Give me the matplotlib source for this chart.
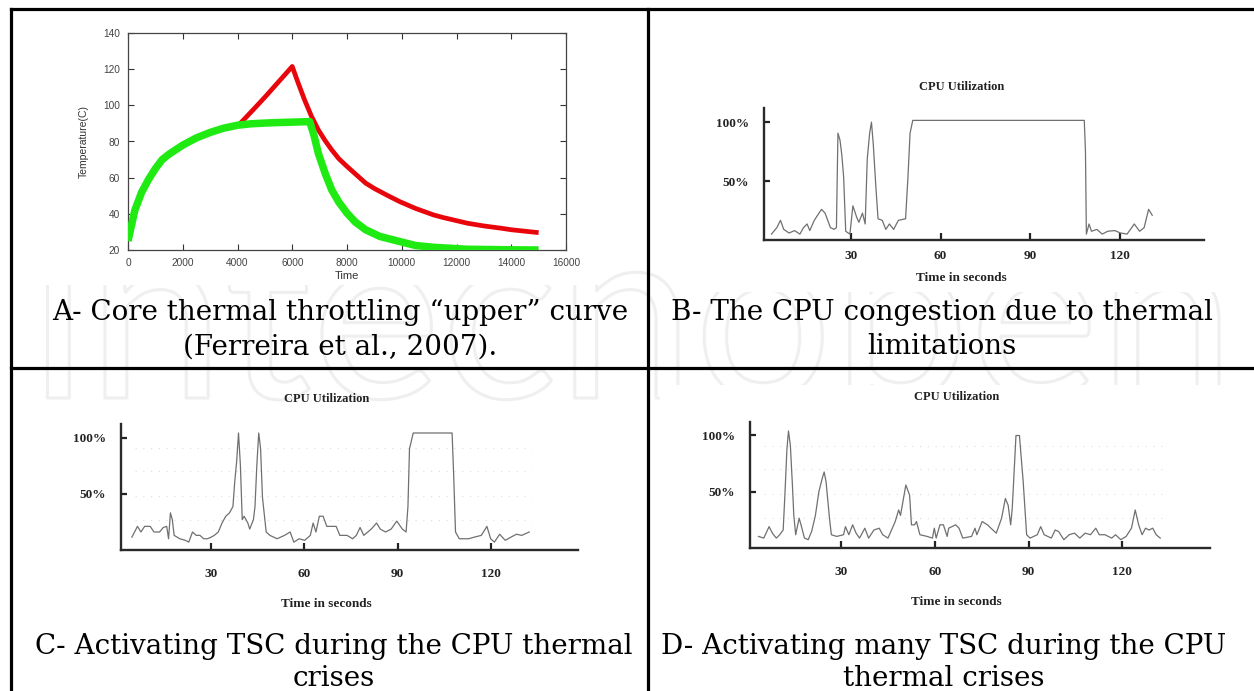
import matplotlib
matplotlib.use("Agg")
import matplotlib.pyplot as plt
from matplotlib.lines import Line2D
from matplotlib.patches import Rectangle
import matplotlib.transforms as mtransforms
import matplotlib.patheffects as pe

# ---------------- data ----------------
# Panel A: core temperature (C) vs time
red_t = [4100, 4600, 5000, 5500, 6000, 6200, 6450, 6700, 6950, 7200, 7440, 7700, 8000,
         8680, 9000, 9500, 9920, 10500, 11160, 11500, 12400, 13000, 13650, 14000, 14500, 15000]
red_T = [90, 98, 104.5, 113, 121.5, 113, 103, 94, 86.5, 80.5, 75.4, 70.5, 66.2,
         57, 54, 50, 46.8, 43, 39.4, 38, 34.8, 33.3, 32, 31.2, 30.4, 29.6]

green_t = [0, 250, 500, 750, 1000, 1250, 1500, 2000, 2500, 3000, 3500, 4000, 4500, 5000,
           5500, 6000, 6400, 6640, 6800, 6950, 7200, 7440, 7700, 8000, 8300, 8680, 9200,
           9920, 10500, 11160, 12400, 13000, 14000, 15000]
green_T = [25, 42, 52, 59, 65, 70, 73, 78, 82, 85, 87.4, 89, 89.8, 90.2,
           90.5, 90.7, 90.9, 91, 83, 73.6, 62.5, 53.3, 46.5, 40.4, 35.5, 31.2, 27.5,
           24.7, 22.5, 21.5, 20.4, 20.3, 20.1, 20]

# Panel B: CPU utilization (%) vs time (s)
b_t = [3.5, 5.3, 6.5, 7.6, 9.4, 11.2, 13, 14.2, 15.4, 16.3, 17.8, 20.2, 21.4, 23.2, 24.4,
       25.2, 25.7, 26.4, 27, 27.6, 28.3, 29.7, 30.7, 31.9, 32.7, 33.9, 34.8, 35.5, 36.3,
       36.9, 37.5, 38.4, 39.1, 40.5, 41.7, 42.9, 44.3, 45.9, 48.3, 49.1, 49.8, 50.7,
       108, 108.4, 108.7, 109.6, 110.4, 112.2, 114, 115.8, 118.2, 120, 122.3, 124.7,
       126.5, 128, 129.5, 130.7]
b_u = [5, 10.5, 16.7, 9, 5.9, 8, 5, 10.5, 13.6, 8, 16.7, 26, 22.8, 10.5, 9,
       10.5, 90.7, 84.6, 72, 53.7, 7.4, 5, 29, 19.8, 15, 22.8, 13.6, 69, 90.7,
       100, 81.5, 44, 18, 16.7, 9, 13.6, 9, 16.7, 18, 53.7, 90.7, 101.5,
       101.5, 75, 5, 13.6, 7.4, 9, 5, 7.4, 8, 6, 5, 13.6,
       7.4, 10.5, 26, 21]

# Panel C
c_t = [4.5, 6.3, 7.4, 8.6, 10.4, 11.6, 13.4, 14.6, 15.7, 16.3, 16.9, 17.5, 18.1, 19.9,
       21.7, 22.8, 24, 25.2, 26.4, 27.6, 28.8, 30, 31, 32.3, 33.5, 34.7, 35.9, 37, 37.6,
       38.2, 38.8, 39.4, 40, 40.6, 41.8, 42.4, 43.6, 44.1, 44.7, 45.3, 45.9, 46.5, 47.7,
       48.9, 51.2, 53.6, 55.4, 56.6, 58.3, 60.1, 61.9, 62.8, 63.7, 64.8, 66, 67.2, 68.4,
       70.2, 71.4, 73.7, 75.5, 76.7, 77.9, 79.1, 81.5, 83.2, 84.4, 86.1, 87.9, 89.7, 91.5,
       92.7, 93.3, 93.8, 95, 107.5, 108, 108.6, 109.8, 112.8, 114.6, 116.9, 118.7, 119.9,
       121.1, 122.8, 124.6, 126.4, 128.2, 129.9, 132.3]
c_u = [11.4, 21, 16, 21, 21, 16, 16, 20, 21, 10, 33, 27, 13, 10,
       8.6, 7, 16, 13, 13, 10, 10, 11.4, 13, 16, 24, 30, 33, 38.6, 61,
       78.6, 104, 75.7, 27, 30, 24, 18.6, 27, 38.6, 75.7, 104, 90, 47, 16,
       13, 10, 13, 16, 7, 10, 8.6, 13, 24, 16, 30, 30, 21, 21,
       21, 13, 13, 10, 13, 20, 13, 18.6, 24, 18.6, 16, 18.6, 25.7, 18.6,
       16, 38.6, 90, 104, 104, 67, 16, 10, 10, 11.4, 13, 21, 10,
       7, 14, 8.6, 11.4, 14, 13, 16]

# Panel D
d_t = [3.7, 5.4, 7.1, 8.2, 9.4, 10.5, 11.6, 12.2, 12.8, 13.3, 13.9, 14.5, 15, 15.6, 16.7,
       17.3, 18.4, 19.6, 20.7, 21.9, 23, 24.1, 24.7, 25.3, 26.4, 27, 28.7, 30.9, 31.5,
       32.6, 33.8, 34.9, 36, 37.7, 38.9, 40.6, 42.3, 43.4, 45.1, 47.4, 48.5, 49.1, 50.8,
       52, 52.6, 53.6, 54.2, 55.3, 57.6, 59.3, 59.9, 60.5, 61.7, 62.8, 64, 64.5, 66.7,
       67.8, 69, 71.8, 72.9, 73.5, 75.2, 76.9, 78, 79.7, 81.4, 82.6, 83.5, 84.3, 84.8, 86,
       87.1, 88.3, 89.4, 90.5, 92.8, 93.9, 95, 97.3, 98.5, 99.6, 101.3, 103, 104.7, 106.4,
       108.1, 109.8, 111.5, 112.6, 114.4, 116.6, 117.8, 119.5, 121.2, 122.9, 124.1, 125.2,
       126.3, 127.4, 128.5, 129.7, 130.8, 132.1]
d_u = [10.3, 8.8, 19, 13, 8.8, 11.8, 16, 50, 88, 104, 91, 59, 29, 11.8, 26.5,
       20.6, 8.8, 7.4, 14.7, 29, 50, 62, 67.6, 59, 26.5, 11.8, 10.3, 11.8, 19,
       11.8, 20.6, 13.2, 8.8, 17.6, 8.8, 16, 17.6, 11.8, 8.8, 23.5, 33.8, 29, 56,
       47, 20.6, 20.6, 23.5, 11.8, 10.3, 8.8, 17.6, 8.8, 20.6, 20.6, 10.3, 17.6, 20.6,
       17.6, 8.8, 10.3, 17.6, 11.8, 23.5, 20.6, 17.6, 13.2, 26.5, 44, 38, 20.6, 35, 100,
       100, 59, 11.8, 8.8, 11.8, 19, 11.8, 8.8, 16, 14.7, 7.4, 11.8, 13.2, 8.8,
       13.2, 11.8, 17.6, 11.8, 11.8, 8.8, 11.8, 7.4, 10.3, 17.6, 33.8, 20.6,
       11.8, 17.6, 16, 17.6, 11.8, 8.8]

a_xticks = [0, 2000, 4000, 6000, 8000, 10000, 12000, 14000, 16000]
a_yticks = [20, 40, 60, 80, 100, 120, 140]
cpu_xticks = [30, 60, 90, 120]
cpu_yticks = [50, 100]
cpu_yticklabels = ["50%", "100%"]

captions = {
    "A": ["A- Core thermal throttling \u201cupper\u201d curve", "(Ferreira et al., 2007)."],
    "B": ["B- The CPU congestion due to thermal", "limitations"],
    "C": ["C- Activating TSC during the CPU thermal", "crises"],
    "D": ["D- Activating many TSC during the CPU", "thermal crises"],
}
watermark = "intechopen"

# ---------------- layout helpers ----------------
W, H = 1254, 691
fig = plt.figure(figsize=(W / 100, H / 100), dpi=100)
fig.patch.set_facecolor("white")


def box(x0, y0, x1, y1):
    return [x0 / W, 1 - y1 / H, (x1 - x0) / W, (y1 - y0) / H]


def fx(x):
    return x / W


def fy(y):
    return 1 - y / H


# faint watermark behind everything (outline only)
fig.text(fx(632), fy(398), watermark, ha="center", va="baseline", family="Lato",
         fontsize=176, color="none", zorder=-5,
         path_effects=[pe.withStroke(linewidth=2.2, foreground="#efefef")])

# white backgrounds of the embedded chart images (hide the watermark there)
for (x0, y0, x1, y1) in [(40, 18, 600, 285), (700, 70, 1240, 292),
                         (30, 402, 590, 615), (660, 385, 1240, 612)]:
    fig.add_artist(Rectangle((fx(x0), fy(y1)), fx(x1) - fx(x0), fy(y0) - fy(y1),
                             transform=fig.transFigure, facecolor="white",
                             edgecolor="none", zorder=-4))

# table lines
lw_tab = 2.3
fig.add_artist(Line2D([fx(11), fx(1254)], [fy(9), fy(9)], color="black", lw=lw_tab))
fig.add_artist(Line2D([fx(11), fx(11)], [fy(9), fy(691)], color="black", lw=lw_tab))
fig.add_artist(Line2D([fx(648), fx(648)], [fy(9), fy(691)], color="black", lw=lw_tab))
fig.add_artist(Line2D([fx(11), fx(1254)], [fy(368), fy(368)], color="black", lw=lw_tab))

# ---------------- Panel A ----------------
axA = fig.add_axes(box(128, 33, 566, 250))
axA.plot(red_t, red_T, color="#e8060c", lw=3.4, solid_capstyle="butt", zorder=2)
axA.plot(green_t, green_T, color="#1fea12", lw=5.4, solid_capstyle="butt", zorder=3)
axA.set_xlim(0, 16000)
axA.set_ylim(20, 140)
axA.set_xticks(a_xticks)
axA.set_yticks(a_yticks)
axA.tick_params(direction="in", length=4, width=0.8, colors="#333333",
                top=True, right=True, labelsize=7.3, pad=6)
for lab in axA.get_xticklabels() + axA.get_yticklabels():
    lab.set_family("Liberation Sans")
    lab.set_color("#444444")
for s in axA.spines.values():
    s.set_color("#444444")
    s.set_linewidth(0.9)
axA.set_xlabel("Time", fontsize=8, family="Liberation Sans", color="#333333", labelpad=2)
axA.set_ylabel("Temperature(C)", fontsize=7.5, family="Liberation Sans", color="#333333",
               labelpad=10)

# ---------------- CPU panels ----------------
cpu_font = "Liberation Serif"


def cpu_panel(rect, t, u, title_y, xlab_y, xpad, grid):
    ax = fig.add_axes(rect)
    ax.set_facecolor("none")
    ax.plot(t, u, color="#707070", lw=0.9, zorder=3)
    ax.set_xlim(1, 148)
    ax.set_ylim(0, 112)
    for side in ("top", "right"):
        ax.spines[side].set_visible(False)
    for side in ("left", "bottom"):
        ax.spines[side].set_color("#2a2a2a")
        ax.spines[side].set_linewidth(1.7)
    ax.set_xticks(cpu_xticks)
    ax.set_yticks(cpu_yticks)
    ax.set_yticklabels(cpu_yticklabels)
    ax.tick_params(axis="x", direction="in", length=5, width=1.6, colors="#222222",
                   pad=xpad, labelsize=9.5)
    ax.tick_params(axis="y", direction="in", length=4, width=1.6, colors="#222222",
                   pad=11, labelsize=9.5)
    for lab in ax.get_xticklabels() + ax.get_yticklabels():
        lab.set_family(cpu_font)
        lab.set_fontweight("bold")
        lab.set_color("#222222")
    if grid:
        for gy in (27, 48, 70, 91):
            ax.axhline(gy, xmin=0.03, xmax=0.9, color="#dedede", lw=0.8,
                       ls=(0, (1, 6)), zorder=1)
    trans = mtransforms.blended_transform_factory(ax.transData, ax.transAxes)
    ax.text(67, title_y, "CPU Utilization", transform=trans, ha="center", va="center",
            family=cpu_font, fontweight="bold", fontsize=9, color="#222222")
    ax.text(67, xlab_y, "Time in seconds", transform=trans, ha="center", va="center",
            family=cpu_font, fontweight="bold", fontsize=9.5, color="#222222")
    return ax


axB = cpu_panel(box(764, 108, 1204, 240), b_t, b_u, 1.16, -0.29, 7, False)
axC = cpu_panel(box(121, 424, 578, 550), c_t, c_u, 1.2, -0.43, 13, True)
axD = cpu_panel(box(750, 422, 1210, 548), d_t, d_u, 1.2, -0.43, 13, True)

# ---------------- captions ----------------
cap_font = "DejaVu Serif"
cap_size = 20
cap_pos = {"A": (340, 312, 347), "B": (942, 312, 347),
           "C": (334, 647, 678), "D": (944, 647, 678)}
for key, (cx, y1, y2) in cap_pos.items():
    l1, l2 = captions[key]
    fig.text(fx(cx), fy(y1), l1, ha="center", va="center", family=cap_font,
             fontsize=cap_size, color="black")
    fig.text(fx(cx), fy(y2), l2, ha="center", va="center", family=cap_font,
             fontsize=cap_size, color="black")

fig.savefig("out.png", dpi=100, facecolor="white")
